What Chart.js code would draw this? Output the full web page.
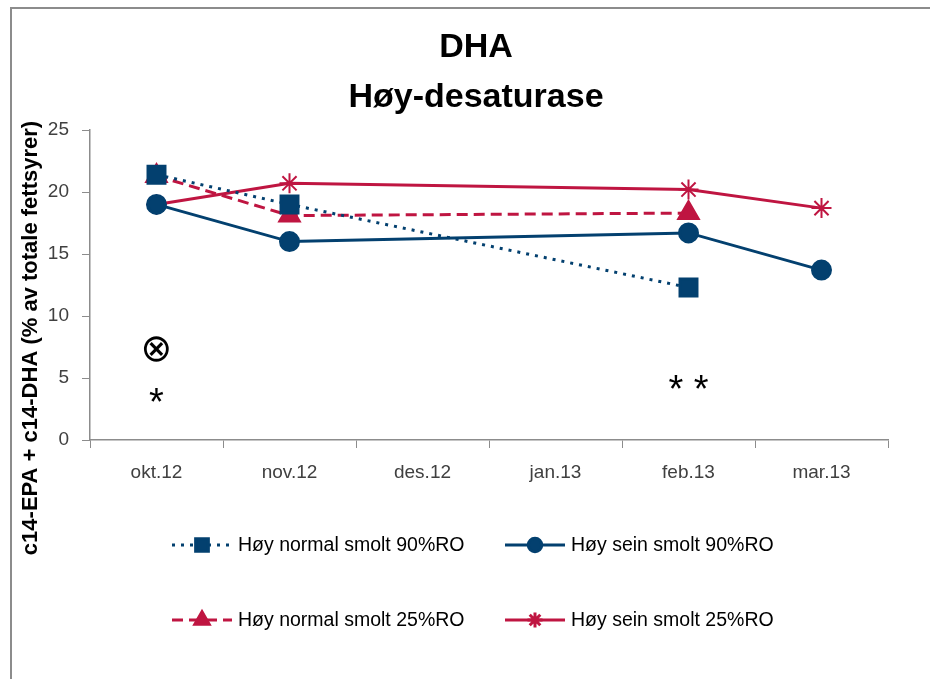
<!DOCTYPE html>
<html>
<head>
<meta charset="utf-8">
<script src="https://cdn.jsdelivr.net/npm/chart.js@4"></script>
<style>
  html, body { margin: 0; padding: 0; background: #fff; }
  #wrap { width: 930px; height: 679px; position: relative; }
</style>
</head>
<body>
<div id="wrap"><canvas id="dhaHoy"></canvas></div>
<script>
/* DHA - Høy-desaturase */
const maaneder = ["okt.12", "nov.12", "des.12", "jan.13", "feb.13", "mar.13"];
const normal90 = [21.4, 19.0, null, null, 12.3, null];
const sein90 = [19.0, 16.0, null, null, 16.7, 13.7];
const normal25 = [21.3, 18.1, null, null, 18.3, null];
const sein25 = [19.0, 20.7, null, null, 20.2, 18.7];
const yTicks = [0, 5, 10, 15, 20, 25];
const tittel = ["DHA", "Høy-desaturase"];
const yTittel = "c14-EPA + c14-DHA (% av totale fettsyrer)";
// signifikans-merker: [kategori, verdi, tekst]
const merker = [
  ["okt.12", 7.2, "⊗"],
  ["okt.12", 2.9, "*"],
  ["feb.13", 3.9, "**"],
];

const BLA = "#03406f";
const ROD = "#bf1541";
const FONT = "'Liberation Sans', sans-serif";

const ekstra = {
  id: "ekstra",
  beforeDraw(chart) {
    const ctx = chart.ctx;
    ctx.save();
    ctx.strokeStyle = "#8c8c8c";
    ctx.lineWidth = 2;
    ctx.strokeRect(11, 8, 1000, 1000);
    ctx.restore();
  },
  afterDraw(chart) {
    const ctx = chart.ctx;
    const x = chart.scales.x, y = chart.scales.y;
    ctx.save();
    // tittel
    ctx.fillStyle = "#000";
    ctx.textAlign = "center";
    ctx.textBaseline = "middle";
    ctx.font = "bold 34px " + FONT;
    ctx.fillText(tittel[0], 476, 48);
    ctx.fillText(tittel[1], 476, 98);

    // y-akse tittel
    ctx.save();
    ctx.translate(31, 338);
    ctx.rotate(-Math.PI / 2);
    ctx.font = "bold 22px " + FONT;
    ctx.fillText(yTittel, 0, 0);
    ctx.restore();

    // merker
    merker.forEach(([kat, v, t]) => {
      const px = x.getPixelForValue(maaneder.indexOf(kat));
      const py = y.getPixelForValue(v);
      if (t === "⊗") {
        ctx.font = "38px 'DejaVu Sans', sans-serif";
      } else {
        ctx.font = "38px " + FONT;
      }
      ctx.fillText(t === "**" ? "* *" : t, px, py);
    });

    // forklaring, 2 kolonner
    const kolX = [172, 505];
    const radY = [545, 620];
    ctx.font = "19.5px " + FONT;
    chart.data.datasets.forEach((ds, i) => {
      const x0 = kolX[i % 2];
      const yy = radY[Math.floor(i / 2)];
      ctx.strokeStyle = ds.borderColor;
      ctx.fillStyle = ds.backgroundColor;
      ctx.lineWidth = ds.borderWidth;
      ctx.setLineDash(ds.borderDash || []);
      ctx.beginPath();
      ctx.moveTo(x0, yy);
      ctx.lineTo(x0 + 60, yy);
      ctx.stroke();
      ctx.setLineDash([]);
      Chart.helpers.drawPoint(ctx, {
        pointStyle: ds.pointStyle,
        radius: ds.pointRadius * 0.75,
        rotation: 0,
        borderWidth: 2,
      }, x0 + 30, yy);
      ctx.fillStyle = "#000";
      ctx.textAlign = "left";
      ctx.fillText(ds.label, x0 + 66, yy + 1);
    });
    ctx.restore();
  },
};

new Chart(document.getElementById("dhaHoy"), {
  type: "line",
  data: {
    labels: maaneder,
    datasets: [
      {
        label: "Høy normal smolt 90%RO",
        data: normal90,
        borderColor: BLA,
        backgroundColor: BLA,
        borderWidth: 3,
        borderDash: [3, 6],
        pointStyle: "rect",
        pointRadius: 12,
      },
      {
        label: "Høy sein smolt 90%RO",
        data: sein90,
        borderColor: BLA,
        backgroundColor: BLA,
        borderWidth: 3,
        pointStyle: "circle",
        pointRadius: 9,
      },
      {
        label: "Høy normal smolt 25%RO",
        data: normal25,
        borderColor: ROD,
        backgroundColor: ROD,
        borderWidth: 3,
        borderDash: [11, 6],
        pointStyle: "triangle",
        pointRadius: 11,
      },
      {
        label: "Høy sein smolt 25%RO",
        data: sein25,
        borderColor: ROD,
        backgroundColor: ROD,
        borderWidth: 3,
        pointStyle: "star",
        pointRadius: 10,
        pointBorderWidth: 2,
      },
    ],
  },
  options: {
    responsive: true,
    maintainAspectRatio: false,
    animation: false,
    spanGaps: true,
    layout: {
      padding: { top: 130, right: 42, bottom: 184, left: 0 },
    },
    plugins: {
      legend: { display: false },
      title: { display: false },
      tooltip: { enabled: false },
    },
    scales: {
      x: {
        offset: true,
        afterFit: (s) => { s.height = 55; },
        grid: {
          offset: true,
          drawOnChartArea: false,
          color: "#8c8c8c",
          tickLength: 8,
        },
        border: { color: "#8c8c8c", width: 1.5 },
        ticks: {
          color: "#404040",
          font: { size: 19, family: FONT },
          padding: 13,
        },
      },
      y: {
        min: 0,
        max: 25,
        afterFit: (s) => { s.width = 90; },
        afterBuildTicks: (s) => { s.ticks = yTicks.map((v) => ({ value: v })); },
        grid: {
          drawOnChartArea: false,
          color: "#8c8c8c",
          tickLength: 8,
        },
        border: { color: "#8c8c8c", width: 1.5 },
        ticks: {
          color: "#404040",
          font: { size: 19, family: FONT },
          padding: 13,
        },
      },
    },
  },
  plugins: [ekstra],
});
</script>
</body>
</html>
